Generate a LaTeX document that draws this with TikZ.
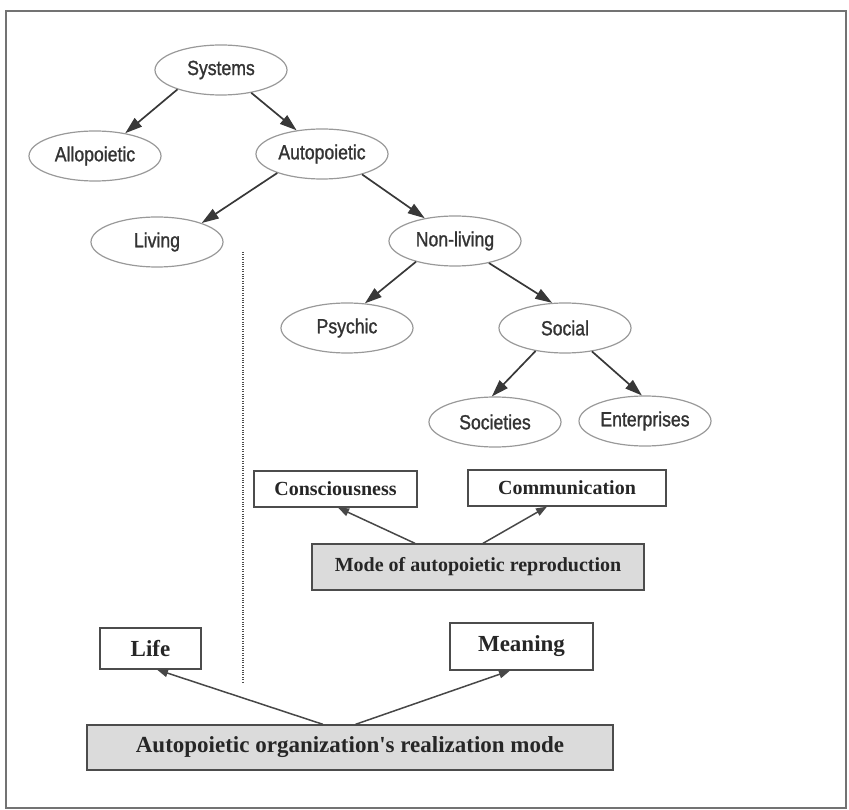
\documentclass[tikz,border=0pt]{standalone}
\usepackage{fontspec}
\newfontfamily\ellfont[FakeStretch=0.86, FakeBold=1.2]{Liberation Sans}
\newfontfamily\boxfont{Liberation Serif}
\usetikzlibrary{shapes.geometric}
\usetikzlibrary{arrows.meta}
\tikzset{
    sysnode/.style={draw=black!40, line width=1.2pt, ellipse, minimum width=132pt, minimum height=50pt, inner sep=0pt, text=black!80, font=\ellfont\fontsize{20.5}{24}\selectfont},
    modebox/.style={draw=black!70, line width=1.3pt, rectangle, inner sep=0pt, text=black!85, font=\boxfont\bfseries\fontsize{20}{24}\selectfont},
    bigtext/.style={font=\boxfont\bfseries\fontsize{23}{27}\selectfont},
    greybox/.style={modebox, fill=black!14},
    bigarrow/.style={-{Triangle[length=17pt,width=11pt]}, draw=black!78, line width=1.7pt},
    smallarrow/.style={-{Triangle[length=11pt,width=8pt]}, draw=black!72, line width=1.5pt},
}

\begin{document}
\begin{tikzpicture}[x=1pt, y=-1pt]
        \useasboundingbox (0,0) rectangle (849,810);
        \draw[black!55, line width=1.8pt] (6,11) rectangle (846,808);

        \node[sysnode] (sys) at (221,70) {Systems};
        \node[sysnode] (allo) at (95,156) {Allopoietic};
        \node[sysnode] (auto) at (322,154) {Autopoietic};
        \node[sysnode] (living) at (157,242) {Living};
        \node[sysnode] (nonliving) at (455,241) {Non-living};
        \node[sysnode] (psychic) at (347,328) {Psychic};
        \node[sysnode] (social) at (565,328) {Social};
        \node[sysnode] (societies) at (495,422) {Societies};
        \node[sysnode] (enterp) at (645,421) {Enterprises};

        \node[modebox, minimum width=163pt, minimum height=36pt] (cons) at (335.5,489) {Consciousness};
        \node[modebox, minimum width=198pt, minimum height=36pt] (comm) at (567,488) {Communication};
        \node[greybox, minimum width=332pt, minimum height=46pt] (mode) at (478,567) {Mode of autopoietic reproduction};

        \node[modebox, bigtext, minimum width=101pt, minimum height=41pt] (life) at (150.5,648.5) {Life};
        \node[modebox, bigtext, minimum width=143pt, minimum height=47pt] (meaning) at (521.5,646.5) {Meaning};
        \node[greybox, bigtext, minimum width=526pt, minimum height=45pt] (realiz) at (350,747.5) {Autopoietic organization\textquotesingle s realization mode};

        \draw[black!70, line width=1.6pt, dash pattern=on 1pt off 1.4pt] (243,252) -- (243,683);

        \begin{scope}[bigarrow]
            \draw (sys.204) -- (allo.37);
            \draw (sys.323) -- (auto.137);
            \draw (auto.203) -- (living.23);
            \draw (auto.333) -- (nonliving.143);
            \draw (nonliving.208) -- (psychic.54);
            \draw (nonliving.327) -- (social.117);
            \draw (social.218) -- (societies.97);
            \draw (social.319) -- (enterp.97);
        \end{scope}

        \begin{scope}[smallarrow]
            \draw ([xshift=-63pt]mode.north) -- ([xshift=2.5pt]cons.south);
            \draw ([xshift=5pt]mode.north) -- ([xshift=-20pt]comm.south);
            \draw ([xshift=-27pt]realiz.north) -- ([xshift=6.5pt]life.south);
            \draw ([xshift=5.5pt]realiz.north) -- ([xshift=-11.5pt]meaning.south);
        \end{scope}

    \end{tikzpicture}
\end{document}
